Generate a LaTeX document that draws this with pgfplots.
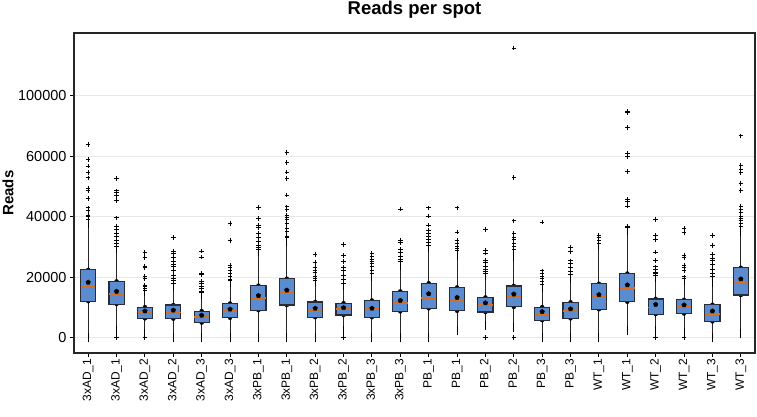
\documentclass[border=0pt]{standalone}
\usepackage{fontspec}
\setmainfont{Liberation Sans}
\usepackage{pgfplots}
\usepackage{pgfplotstable}
\pgfplotsset{compat=1.18}
\usetikzlibrary{plotmarks}

\definecolor{boxblue}{RGB}{92,140,208}
\definecolor{boxedge}{RGB}{40,44,56}
\definecolor{medorange}{RGB}{214,110,36}
\definecolor{gridgray}{RGB}{232,232,232}

% per-column summary: whisker ends, quartiles, median, mean
\pgfplotstableread{
pos lw   q1    med   q3    uw    mean
0   0    12100 16800 22400 37600 18300
1   2300 11100 14400 18600 29400 15300
2   1200 6400  8300  10100 15400 8800
3   0    6300  8300  10800 17200 9100
4   0    5000  6900  8800  14300 7400
5   0    6600  8800  11300 18200 9400
6   0    9100  13200 17200 28400 13900
7   0    10800 15100 19500 31800 15700
8   0    6800  9100  11800 18500 9700
9   2300 7500  9600  11400 17200 9900
10  0    6800  9900  12300 20400 9700
11  0    8700  11600 15300 23800 12300
12  0    9700  13200 18000 29900 14500
13  2300 8900  12300 16600 27300 13300
14  4000 8500  10900 13300 20500 11500
15  3400 10200 13500 17100 26900 14400
16  0    5800  7900  10100 16700 8600
17  0    6400  8900  11700 19800 9500
18  0    9400  13800 17800 30400 14200
19  2300 11900 16500 21200 35300 17400
20  2500 7800  10000 12800 19800 11000
21  1800 8000  10100 12500 19000 10800
22  0    5400  7900  10900 18400 8800
23  1300 14100 18300 23100 35000 19400
}\boxstats

\pgfplotsset{
  spotframe/.style={
    scale only axis,
    width=681pt, height=320pt,
    xmin=-0.5, xmax=23.5,
    ymin=-5050, ymax=100660,
  },
}

\begin{document}
\begin{tikzpicture}
% frame, grid and whiskers
\begin{axis}[
  spotframe,
  name=ax,
  xtick={0,...,23},
  xticklabels={3xAD\_1,3xAD\_1,3xAD\_2,3xAD\_2,3xAD\_3,3xAD\_3,
               3xPB\_1,3xPB\_1,3xPB\_2,3xPB\_2,3xPB\_3,3xPB\_3,
               PB\_1,PB\_1,PB\_2,PB\_2,PB\_3,PB\_3,
               WT\_1,WT\_1,WT\_2,WT\_2,WT\_3,WT\_3},
  xticklabel style={rotate=90, anchor=east, inner sep=1.5pt,
                    font=\fontsize{12}{14}\selectfont},
  ytick={0,20000,40000,60000,80000},
  yticklabels={0,20000,40000,60000,100000},
  yticklabel style={font=\fontsize{14.5}{16}\selectfont},
  /pgf/number format/assume math mode=true,
  scaled y ticks=false,
  ymajorgrids,
  grid style={draw=gridgray, line width=1pt},
  tick pos=left,
  tick align=outside,
  major tick length=4pt,
  tick style={black, line width=0.9pt},
  axis line style={black!85, line width=1.1pt},
  title={Reads per spot},
  title style={at={(0.5,1)}, anchor=base, yshift=12.3pt,
               font=\fontsize{18.5}{20}\selectfont\bfseries},
]
\addplot[only marks, mark=none,
  error bars/.cd, y dir=minus, y explicit,
  error mark=-, error mark options={black, mark size=4.6pt, line width=1pt},
  error bar style={draw=black!85, line width=1pt}]
  table[x=pos, y=q1, y error minus expr=\thisrow{q1}-\thisrow{lw}] {\boxstats};
\addplot[only marks, mark=none,
  error bars/.cd, y dir=plus, y explicit,
  error mark=-, error mark options={black, mark size=4.6pt, line width=1pt},
  error bar style={draw=black!85, line width=1pt}]
  table[x=pos, y=q3, y error plus expr=\thisrow{uw}-\thisrow{q3}] {\boxstats};
\end{axis}

% interquartile boxes
\begin{axis}[spotframe, hide axis, ybar stacked, bar width=0.53]
\addplot[draw=none, fill=none] table[x=pos, y=q1] {\boxstats};
\addplot[draw=boxedge, fill=boxblue, line width=1.1pt]
  table[x=pos, y expr=\thisrow{q3}-\thisrow{q1}] {\boxstats};
\end{axis}

% medians, means and outliers
\begin{axis}[spotframe, hide axis]
\addplot[only marks, mark=-, mark size=7.2pt,
  mark options={draw=medorange, line width=1.8pt}]
  table[x=pos, y=med] {\boxstats};
\addplot[only marks, mark=pentagon*, mark size=2.4pt,
  mark options={draw=black, fill=black, line width=0.4pt}]
  table[x=pos, y=mean] {\boxstats};
\addplot[only marks, mark=+, mark size=2.3pt, mark options={draw=black, line width=0.9pt}]
  coordinates {
    (0,63900) (0,58900) (0,56700) (0,54500) (0,52800) (0,49200) (0,48500) (0,46000) (0,42900) (0,42100) (0,40400) (0,40100) (0,39100)
    (1,0) (1,52600) (1,48500) (1,47900) (1,47000) (1,45400) (1,39600) (1,36900) (1,35800) (1,34500) (1,33300) (1,32200) (1,31200) (1,30300)
    (2,0) (2,28100) (2,26500) (2,23700) (2,23200) (2,20400) (2,19600) (2,17400) (2,16800) (2,16300) (2,15700)
    (3,33200) (3,28600) (3,27800) (3,26400) (3,25300) (3,24200) (3,23500) (3,22100) (3,20700) (3,19600) (3,18800) (3,18000)
    (4,28600) (4,26600) (4,21200) (4,20900) (4,18500) (4,17800) (4,17100) (4,16200) (4,15300) (4,14900)
    (5,37700) (5,32200) (5,24000) (5,23200) (5,22300) (5,21200) (5,20200) (5,19300) (5,18900)
    (6,43000) (6,39300) (6,37000) (6,36500) (6,34500) (6,33000) (6,31900) (6,30600) (6,29800) (6,29100)
    (7,61100) (7,57800) (7,54700) (7,52600) (7,47100) (7,43200) (7,42300) (7,40500) (7,39700) (7,39100) (7,37800) (7,36100) (7,35000) (7,33600) (7,33200)
    (8,27500) (8,24800) (8,23100) (8,22300) (8,21400) (8,20400) (8,19600) (8,19000)
    (9,0) (9,30700) (9,27200) (9,25100) (9,23100) (9,22300) (9,20700) (9,19300) (9,18000)
    (10,27900) (10,26800) (10,26000) (10,25200) (10,24400) (10,23500) (10,22300) (10,21200)
    (11,42500) (11,32200) (11,31500) (11,29200) (11,28100) (11,27000) (11,25900) (11,25100)
    (12,42900) (12,40200) (12,37200) (12,35500) (12,34400) (12,33600) (12,32300) (12,31400) (12,30600)
    (13,42900) (13,34900) (13,32200) (13,31100) (13,30200) (13,29400) (13,28700)
    (14,0) (14,35700) (14,28800) (14,28000) (14,25600) (14,24700) (14,23400) (14,22500) (14,21800) (14,21200)
    (15,0) (15,95700) (15,52900) (15,38600) (15,34500) (15,33200) (15,32300) (15,31200) (15,30100) (15,29000)
    (16,38200) (16,22100) (16,21200) (16,20300) (16,19600) (16,18500) (16,17700)
    (17,29800) (17,28400) (17,25400) (17,24500) (17,23200) (17,21800) (17,20900)
    (18,33800) (18,33100) (18,32200) (18,31100)
    (19,74700) (19,74300) (19,69500) (19,60900) (19,59800) (19,55000) (19,45700) (19,45000) (19,43500) (19,36900) (19,36500)
    (20,0) (20,39100) (20,33800) (20,32500) (20,28300) (20,25600) (20,23400) (20,22500) (20,21700) (20,21200) (20,20600)
    (21,0) (21,36100) (21,34700) (21,27300) (21,26400) (21,24000) (21,23200) (21,22300) (21,20100) (21,19600)
    (22,33800) (22,30400) (22,27600) (22,26200) (22,25400) (22,24200) (22,22600) (22,21100) (22,20200)
    (23,66700) (23,57000) (23,55600) (23,54500) (23,51000) (23,48700) (23,43500) (23,42400) (23,41300) (23,40200) (23,39400) (23,38600) (23,37700) (23,36600)
  };
\end{axis}

% y-axis title
\node[rotate=90, anchor=base, font=\fontsize{15}{17}\selectfont\bfseries]
  at ([xshift=-60.5pt]ax.west) {Reads};
% fixed page frame around the axis
\pgfresetboundingbox
\path ([shift={(-74pt,-63pt)}]ax.south west) rectangle ([shift={(2pt,33pt)}]ax.north east);
\end{tikzpicture}
\end{document}
